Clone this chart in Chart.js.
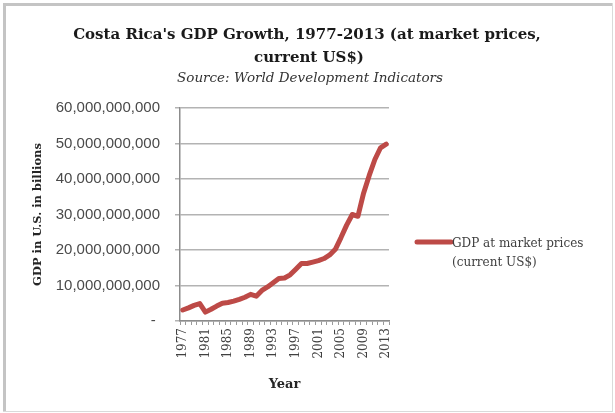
<!DOCTYPE html>
<html>
<head>
<meta charset="utf-8">
<script src="https://cdn.jsdelivr.net/npm/chart.js@4/dist/chart.umd.min.js"></script>
<style>
  html, body { margin: 0; padding: 0; background: #fff; }
  canvas { display: block; }
</style>
</head>
<body>
<canvas id="gdpChart" width="615" height="413"></canvas>
<script>
// GDP DATA (current US$)
const years = [
    "1977", "1978", "1979", "1980", "1981", "1982", "1983", "1984", "1985", "1986",
    "1987", "1988", "1989", "1990", "1991", "1992", "1993", "1994", "1995", "1996",
    "1997", "1998", "1999", "2000", "2001", "2002", "2003", "2004", "2005", "2006",
    "2007", "2008", "2009", "2010", "2011", "2012", "2013"
];
const gdpBillions = [
    3.1, 3.7, 4.4, 4.9, 2.5, 3.3, 4.2, 5.0, 5.2, 5.6,
    6.1, 6.7, 7.5, 7.0, 8.6, 9.6, 10.8, 12.0, 12.1, 13.0,
    14.6, 16.2, 16.2, 16.6, 17.0, 17.6, 18.6, 20.2, 23.5, 27.0,
    30.0, 29.5, 36.0, 41.0, 45.5, 48.8, 49.8
];
const yTicks = [0, 10e9, 20e9, 30e9, 40e9, 50e9, 60e9];

const titleLines = ["Costa Rica's GDP Growth, 1977-2013 (at market prices,", "current US$)"];
const subtitle = "Source: World Development Indicators";
const legendLines = ["GDP at market prices", "(current US$)"];

const lineColor = "#bd4a47";

// FRAME + BACKGROUND
const framePlugin = {
    id: "frame",
    beforeDraw(chart) {
        const ctx = chart.ctx;
        ctx.save();
        ctx.fillStyle = "#fff";
        ctx.fillRect(0, 0, chart.width, chart.height);
        ctx.fillStyle = "#c4c4c4";
        ctx.fillRect(3, 3, 3, 409);
        ctx.fillRect(3, 3, 610, 3);
        ctx.fillStyle = "#dadada";
        ctx.fillRect(612, 3, 1, 409);
        ctx.fillRect(3, 411, 610, 1);
        ctx.restore();
    }
};

// TITLE + LEGEND
const headingPlugin = {
    id: "headings",
    afterDraw(chart) {
        const ctx = chart.ctx;
        ctx.save();
        ctx.textAlign = "center";
        ctx.textBaseline = "alphabetic";
        ctx.fillStyle = "#1a1a1a";
        ctx.font = 'bold 15px "DejaVu Serif"';
        ctx.fillText(titleLines[0], 307, 39);
        ctx.fillText(titleLines[1], 309, 62);
        ctx.font = 'italic 13.5px "DejaVu Serif"';
        ctx.fillStyle = "#333";
        ctx.fillText(subtitle, 310, 82);

        // legend
        ctx.strokeStyle = lineColor;
        ctx.lineWidth = 5;
        ctx.lineCap = "round";
        ctx.beginPath();
        ctx.moveTo(417, 242);
        ctx.lineTo(451, 242);
        ctx.stroke();
        ctx.textAlign = "left";
        ctx.textBaseline = "middle";
        ctx.fillStyle = "#404040";
        ctx.font = '12px "DejaVu Serif"';
        ctx.fillText(legendLines[0], 452, 244);
        ctx.fillText(legendLines[1], 452, 263);
        ctx.restore();
    }
};

document.addEventListener("DOMContentLoaded", () => {
    const ctx = document.getElementById("gdpChart");
    new Chart(ctx, {
        type: "line",
        data: {
            labels: years,
            datasets: [{
                label: legendLines.join(" "),
                data: gdpBillions.map(v => v * 1e9),
                borderColor: lineColor,
                backgroundColor: lineColor,
                borderWidth: 5,
                borderJoinStyle: "round",
                borderCapStyle: "round",
                pointRadius: 0,
                tension: 0,
                fill: false
            }]
        },
        options: {
            responsive: false,
            devicePixelRatio: 1,
            animation: false,
            layout: { padding: { top: 108, right: 226, bottom: 10, left: 20 } },
            plugins: {
                legend: { display: false },
                title: { display: false },
                tooltip: { enabled: false }
            },
            scales: {
                x: {
                    type: "category",
                    offset: true,
                    afterFit: scale => { scale.height = 82; },
                    border: { color: "#8c8c8c", width: 1.5 },
                    grid: {
                        offset: true,
                        drawOnChartArea: false,
                        drawTicks: true,
                        tickLength: 4,
                        color: "#9a9a9a"
                    },
                    ticks: {
                        autoSkip: false,
                        minRotation: 90,
                        maxRotation: 90,
                        padding: 3,
                        color: "#404040",
                        font: { family: "DejaVu Serif", size: 12 },
                        callback: (val, i) => (i % 4 === 0 ? years[i] : "")
                    },
                    title: {
                        display: true,
                        text: "Year",
                        color: "#262626",
                        font: { family: "DejaVu Serif", size: 13, weight: "bold" },
                        padding: { top: 0, bottom: 11 }
                    }
                },
                y: {
                    min: 0,
                    max: 60e9,
                    afterFit: scale => { scale.width = 160; },
                    afterBuildTicks: scale => { scale.ticks = yTicks.map(v => ({ value: v })); },
                    border: { color: "#8c8c8c", width: 1.5 },
                    grid: {
                        color: "#b3b3b3",
                        lineWidth: 1.5,
                        drawTicks: true,
                        tickLength: 5
                    },
                    ticks: {
                        padding: 15,
                        color: "#4a4a4a",
                        font: { family: "Liberation Sans", size: 15 },
                        callback: v => (v === 0 ? "- " : v.toLocaleString("en-US"))
                    },
                    title: {
                        display: true,
                        text: "GDP in U.S. in billions",
                        color: "#262626",
                        font: { family: "DejaVu Serif", size: 11.5, weight: "bold" },
                        padding: { top: 11, bottom: 0 }
                    }
                }
            }
        },
        plugins: [framePlugin, headingPlugin]
    });
});
</script>
</body>
</html>
